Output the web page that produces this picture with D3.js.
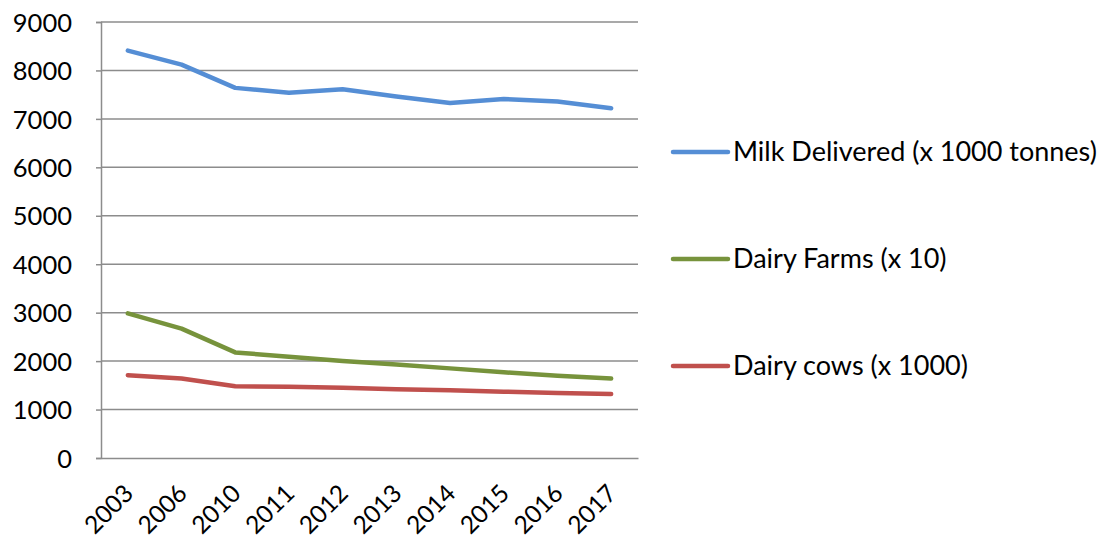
<!DOCTYPE html>
<html>
<head>
<meta charset="utf-8">
<script src="https://cdn.jsdelivr.net/npm/d3@7"></script>
<style>
  html, body { margin: 0; padding: 0; background: #fff; }
  svg text { font-family: Lato, "Open Sans", sans-serif; fill: #000; }
</style>
</head>
<body>
<svg id="chart" width="1101" height="541"></svg>
<script>
// Years on the category axis
const years = ["2003", "2006", "2010", "2011", "2012", "2013", "2014", "2015", "2016", "2017"];

// Series values
const milkDelivered = [8410, 8120, 7640, 7540, 7610, 7460, 7330, 7410, 7360, 7220];
const dairyFarms    = [2985, 2670, 2180, 2090, 2000, 1930, 1850, 1770, 1700, 1640];
const dairyCows     = [1710, 1640, 1480, 1470, 1450, 1420, 1400, 1370, 1340, 1320];

// Value axis ticks
const yTicks = [0, 1000, 2000, 3000, 4000, 5000, 6000, 7000, 8000, 9000];

const seriesNames  = ["Milk Delivered (x 1000 tonnes)", "Dairy Farms (x 10)", "Dairy cows (x 1000)"];
const seriesColors = ["#558ED5", "#77933C", "#C0504D"];
const seriesValues = [milkDelivered, dairyFarms, dairyCows];

const svg = d3.select("#chart");
const plot = { left: 101, right: 638, top: 22, bottom: 458 };

const x = d3.scaleBand().domain(years).range([plot.left, plot.right]);
const y = d3.scaleLinear().domain([0, 9000]).range([plot.bottom, plot.top]);

// Horizontal gridlines
svg.append("g")
  .selectAll("line")
  .data(yTicks.filter(d => d > 0))
  .join("line")
  .attr("x1", plot.left).attr("x2", plot.right)
  .attr("y1", d => y(d)).attr("y2", d => y(d))
  .attr("stroke", "#8c8c8c").attr("stroke-width", 1.5);

// Value axis
const yAxis = svg.append("g")
  .attr("transform", `translate(${plot.left},0)`)
  .call(d3.axisLeft(y).tickValues(yTicks).tickSize(5).tickPadding(24).tickFormat(d3.format("d")));
yAxis.select(".domain").attr("stroke", "#8c8c8c").attr("stroke-width", 1.5);
yAxis.selectAll(".tick line").attr("stroke", "#8c8c8c").attr("stroke-width", 1.5);
yAxis.selectAll(".tick text").attr("font-size", 25.5).attr("dy", "0.36em")
  .style("font-family", "Lato, 'Open Sans', sans-serif");

// Category axis with rotated year labels
const xAxis = svg.append("g")
  .attr("transform", `translate(0,${plot.bottom})`)
  .call(d3.axisBottom(x).tickSize(0).tickSizeOuter(0));
xAxis.select(".domain").attr("stroke", "#8c8c8c").attr("stroke-width", 1.5);
xAxis.selectAll(".tick text")
  .attr("font-size", 24.5)
  .attr("text-anchor", "end")
  .attr("dy", 0)
  .attr("transform", "translate(7,37) rotate(-45)")
  .attr("y", 0).attr("x", 0)
  .style("font-family", "Lato, 'Open Sans', sans-serif");

// Series lines
const line = d3.line()
  .x((d, i) => x(years[i]) + x.bandwidth() / 2)
  .y(d => y(d));

svg.append("g")
  .selectAll("path")
  .data(seriesValues)
  .join("path")
  .attr("d", line)
  .attr("fill", "none")
  .attr("stroke", (d, i) => seriesColors[i])
  .attr("stroke-width", 4.5)
  .attr("stroke-linecap", "round")
  .attr("stroke-linejoin", "round");

// Legend
const legendY = [152, 259, 366];
const legend = svg.append("g")
  .selectAll("g")
  .data(seriesNames)
  .join("g")
  .attr("transform", (d, i) => `translate(673,${legendY[i]})`);
legend.append("line")
  .attr("x1", 0).attr("x2", 55)
  .attr("stroke", (d, i) => seriesColors[i])
  .attr("stroke-width", 4.5)
  .attr("stroke-linecap", "round");
legend.append("text")
  .attr("x", 60).attr("dy", "0.35em")
  .attr("font-size", 27)
  .text(d => d);
</script>
</body>
</html>
